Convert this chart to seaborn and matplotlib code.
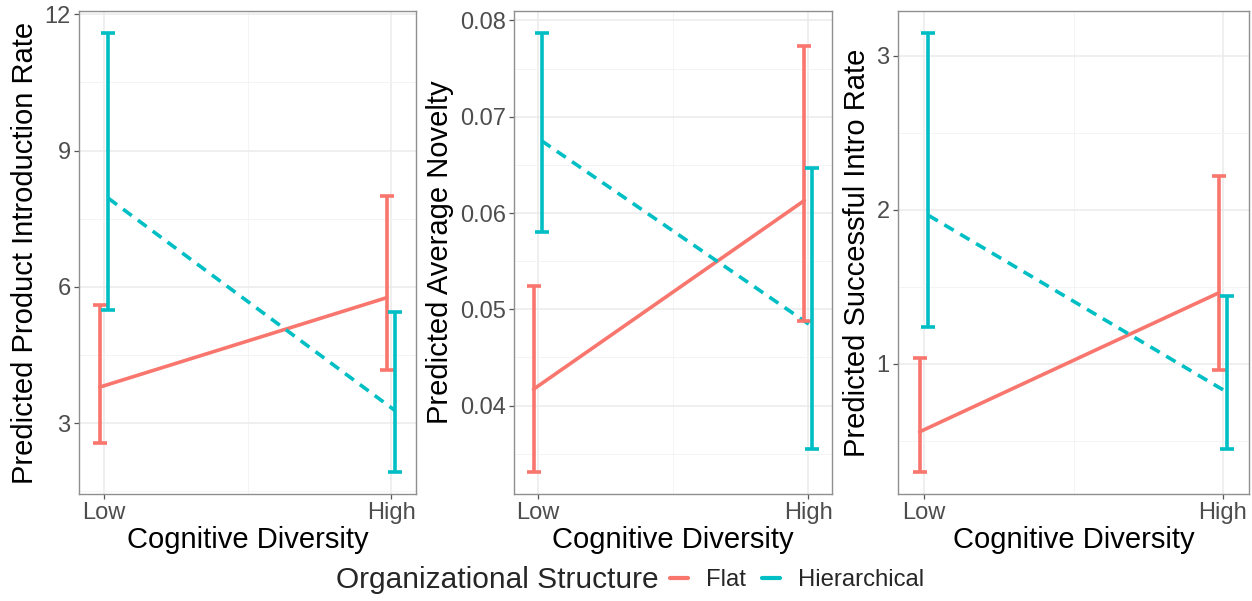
import matplotlib
matplotlib.use("Agg")
import matplotlib.pyplot as plt
from matplotlib.lines import Line2D
from matplotlib.ticker import FixedLocator, FuncFormatter
import seaborn as sns
import pandas as pd

# ---------------- data ----------------
categories = ["Low", "High"]
structures = ["Flat", "Hierarchical"]

# Panel 1: Predicted Product Introduction Rate
p1_flat_mean = [3.79, 5.76]
p1_flat_lo = [2.55, 4.17]
p1_flat_hi = [5.60, 7.99]
p1_hier_mean = [7.95, 3.27]
p1_hier_lo = [5.48, 1.92]
p1_hier_hi = [11.59, 5.45]

# Panel 2: Predicted Average Novelty
p2_flat_mean = [0.0417, 0.0613]
p2_flat_lo = [0.0331, 0.0488]
p2_flat_hi = [0.0524, 0.0773]
p2_hier_mean = [0.0675, 0.0482]
p2_hier_lo = [0.0580, 0.0355]
p2_hier_hi = [0.0787, 0.0647]

# Panel 3: Predicted Successful Intro Rate
p3_flat_mean = [0.558, 1.46]
p3_flat_lo = [0.297, 0.963]
p3_flat_hi = [1.037, 2.218]
p3_hier_mean = [1.964, 0.814]
p3_hier_lo = [1.236, 0.446]
p3_hier_hi = [3.149, 1.443]

ylabels = ["Predicted Product Introduction Rate",
           "Predicted Average Novelty",
           "Predicted Successful Intro Rate"]
xlabel = "Cognitive Diversity"
legend_title = "Organizational Structure"
yticks = [[3, 6, 9, 12], [0.04, 0.05, 0.06, 0.07, 0.08], [1, 2, 3]]

panels = [
    (p1_flat_mean, p1_flat_lo, p1_flat_hi, p1_hier_mean, p1_hier_lo, p1_hier_hi),
    (p2_flat_mean, p2_flat_lo, p2_flat_hi, p2_hier_mean, p2_hier_lo, p2_hier_hi),
    (p3_flat_mean, p3_flat_lo, p3_flat_hi, p3_hier_mean, p3_hier_lo, p3_hier_hi),
]

# ---------------- style ----------------
sns.set_theme(style="white")
plt.rcParams["font.family"] = ["Liberation Sans", "DejaVu Sans"]

colors = {"Flat": "#F8766D", "Hierarchical": "#00BFC4"}
LW = 2.6
dodge = 0.015

fig = plt.figure(figsize=(12.52, 6.01), dpi=100)
W, H = 1252, 601
boxes = [(79, 416), (514, 832), (898, 1249)]
top_px, bot_px = 11, 494

for i, ((fm, flo, fhi, hm, hlo, hhi), (l, r)) in enumerate(zip(panels, boxes)):
    ax = fig.add_axes([l / W, (H - bot_px) / H, (r - l) / W, (bot_px - top_px) / H])
    rows = []
    for s, m, lo, hi, off in [("Flat", fm, flo, fhi, -dodge), ("Hierarchical", hm, hlo, hhi, dodge)]:
        for j, c in enumerate(categories):
            rows.append(dict(cat=c, x=j + off, mean=m[j], lo=lo[j], hi=hi[j], structure=s))
    df = pd.DataFrame(rows)

    ymin_d, ymax_d = df["lo"].min(), df["hi"].max()
    rng = ymax_d - ymin_d
    ax.set_ylim(ymin_d - 0.05 * rng, ymax_d + 0.05 * rng)
    ax.set_xlim(-0.087, 1.087)
    yt = yticks[i]
    step = yt[1] - yt[0]
    minor = [yt[0] - step / 2] + [v + step / 2 for v in yt]
    ax.yaxis.set_major_locator(FixedLocator(yt))
    ax.yaxis.set_minor_locator(FixedLocator(minor))
    ax.xaxis.set_major_locator(FixedLocator([0, 1]))
    ax.xaxis.set_minor_locator(FixedLocator([0.5]))
    ax.set_xticklabels(categories)
    ax.yaxis.set_major_formatter(FuncFormatter(lambda v, p: f"{v:g}"))
    ax.grid(which="major", color="#EBEBEB", lw=1.1)
    ax.grid(which="minor", color="#F4F4F4", lw=0.7)
    ax.set_axisbelow(True)

    sns.lineplot(data=df, x="x", y="mean", hue="structure", style="structure",
                 palette=colors, hue_order=structures, style_order=structures,
                 dashes={"Flat": "", "Hierarchical": (3.0, 2.1)},
                 linewidth=LW, legend=False, ax=ax, sort=True)
    for s in structures:
        sub = df[df["structure"] == s]
        ax.errorbar(sub["x"], sub["mean"],
                    yerr=[sub["mean"] - sub["lo"], sub["hi"] - sub["mean"]],
                    fmt="none", ecolor=colors[s], elinewidth=LW, capsize=4.8,
                    capthick=LW)

    for sp in ax.spines.values():
        sp.set_color("#8F8F8F")
        sp.set_linewidth(1.0)
    ax.tick_params(axis="both", which="major", length=3.5, width=0.9, color="#555555",
                   labelsize=17, labelcolor="#4D4D4D", pad=2.5, bottom=True, left=True)
    ax.tick_params(axis="both", which="minor", length=0)
    ax.set_xlabel(xlabel, fontsize=21, color="black", labelpad=1)
    ax.set_ylabel(ylabels[i], fontsize=21, color="black", labelpad=4)

# legend
fig.text(336 / W, 1 - 580 / H, legend_title, fontsize=21.5, va="center", ha="left")
handles = [Line2D([0], [0], color=colors[s], lw=LW + 0.4) for s in structures]
fig.legend(handles, structures, loc="center left", bbox_to_anchor=(670 / W, 1 - 580 / H),
           ncol=2, frameon=False, fontsize=17.2, handlelength=0.75,
           handletextpad=0.75, columnspacing=0.7, borderpad=0, borderaxespad=0)

fig.savefig("out.png", dpi=100)
